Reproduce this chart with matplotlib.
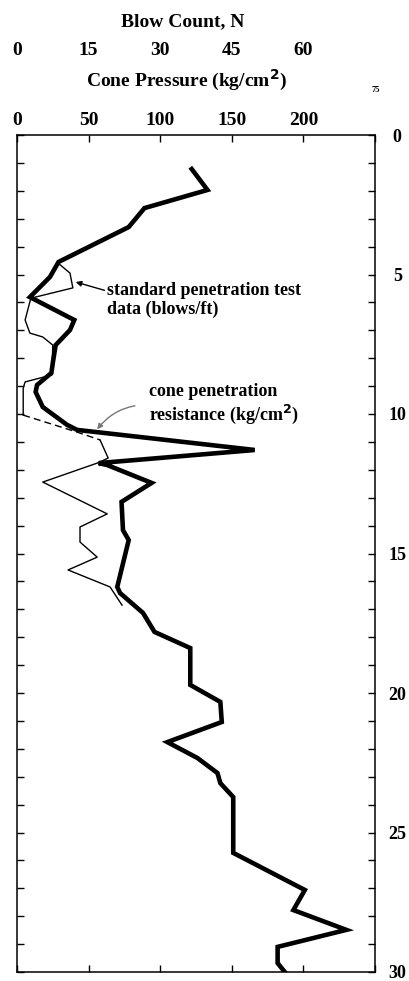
import numpy as np
import matplotlib
matplotlib.use("Agg")
from matplotlib import pyplot as plt

# cone penetration resistance (kg/cm2) vs depth (ft) - thick line
cone_depth = [1.22, 1.97, 2.62, 3.30, 4.55, 5.09, 5.81, 6.63, 6.99, 7.53, 8.17, 8.53,
              8.96, 9.21, 9.75, 10.39, 10.57, 11.29, 11.76, 11.83, 12.47, 13.15, 14.16,
              14.52, 16.20, 16.42, 17.13, 17.81, 18.39, 19.71, 20.32, 21.04, 21.76,
              22.33, 22.87, 23.23, 23.73, 25.73, 27.06, 27.78, 28.49, 29.10, 29.68, 30.0]
cone_value = [122, 133, 89, 78, 29, 23, 9, 40, 37, 27, 25, 24,
              14, 13, 18, 35, 42, 166, 57, 63, 94, 73, 74,
              78, 70, 72, 88, 96, 121, 121, 142, 143, 105,
              126, 140, 142, 151, 151, 201, 193, 230, 182, 182, 187]

# standard penetration test (blows/ft) vs depth (ft) - thin line
spt_depth = [4.59, 4.95, 5.48, 5.85, 6.63, 7.10, 7.24, 7.53, 8.60, 8.85, 9.07, 10.04]
spt_blows = [8.6, 11.1, 11.7, 2.9, 1.7, 2.7, 5.4, 7.5, 7.3, 1.7, 1.3, 1.3]
spt_gap_depth = [10.04, 10.65, 10.93]
spt_gap_blows = [1.3, 12.6, 17.4]
spt2_depth = [10.93, 11.58, 11.76, 12.44, 13.58, 14.05, 14.59, 15.13, 15.59, 16.20, 16.85]
spt2_blows = [17.4, 19.1, 16.8, 5.4, 18.9, 13.2, 13.2, 16.8, 10.7, 19.5, 22.0]

cone_ticks = [0, 50, 100, 150, 200]
blow_ticks = [0, 15, 30, 45, 60]
depth_ticks = [0, 5, 10, 15, 20, 25, 30]

plt.rcParams['font.family'] = ['Liberation Serif', 'DejaVu Serif']
plt.rcParams['font.weight'] = 'bold'

fig = plt.figure(figsize=(4.1, 9.81), dpi=100)
ax = fig.add_axes([17/410, 1-972/981, (375-17)/410, (972-135)/981])

ax.plot(cone_value, cone_depth, color='black', lw=3.3, solid_joinstyle='miter', zorder=3)
ax.set_xlim(0, 250)
ax.set_ylim(30, 0)

# blow count axis on top
ax2 = ax.twiny()
ax2.set_xlim(0, 75)
ax2.plot(spt_blows, spt_depth, color='black', lw=1.0)
ax2.plot(spt_gap_blows, spt_gap_depth, color='black', lw=1.0, ls=(0, (5, 3)))
ax2.plot(spt2_blows, spt2_depth, color='black', lw=1.0)
ax2.set_xticks(blow_ticks)
ax2.tick_params(axis='x', length=0, pad=55, labelsize=14)
for s in ax2.spines.values():
    s.set_visible(False)

ax.xaxis.set_ticks_position('both')
ax.xaxis.set_label_position('top')
ax.set_xticks(cone_ticks + [250])
ax.set_xticklabels([str(t) for t in cone_ticks] + [''])
ax.tick_params(axis='x', which='both', direction='in', length=5, width=1,
               top=True, bottom=True, labeltop=True, labelbottom=False, pad=4, labelsize=14)

ax.yaxis.set_ticks_position('both')
ax.set_yticks(depth_ticks)
ax.set_yticks(np.arange(0, 31, 1), minor=True)
ax.tick_params(axis='y', which='both', direction='in', length=5, width=1,
               left=True, right=True, labelleft=False, labelright=True, pad=16, labelsize=13)
for lab in ax.get_yticklabels():
    lab.set_horizontalalignment('center')
for s in ax.spines.values():
    s.set_linewidth(1.1)

fig.text(183/410, 1-22/981, 'Blow Count, N', ha='center', va='center', fontsize=14)
fig.text(187/410, 1-80/981, 'Cone Pressure (kg/cm$^{\\mathbf{2}}$)', ha='center', va='center', fontsize=14)
fig.text(376/410, 1-90/981, '75', ha='center', va='center', fontsize=6)

ax.annotate('standard penetration test\ndata (blows/ft)', xy=(41, 5.27), xytext=(63, 5.27),
            fontsize=13, va='top', ha='left', linespacing=1.15,
            arrowprops=dict(arrowstyle='-|>', color='black', lw=1.0, mutation_scale=8,
                            shrinkA=0, shrinkB=0, relpos=(0, 0.75)))
ax.annotate('cone penetration\nresistance (kg/cm$^{\\mathbf{2}}$)', xy=(56, 10.55), xytext=(92, 8.9),
            fontsize=13, va='top', ha='left', linespacing=1.15,
            arrowprops=dict(arrowstyle='-|>', color='#777777', lw=1.0, mutation_scale=8,
                            shrinkA=8, shrinkB=0, relpos=(0, 0.5),
                            connectionstyle='arc3,rad=0.25'))

fig.savefig('out.png', dpi=100, facecolor='white')
